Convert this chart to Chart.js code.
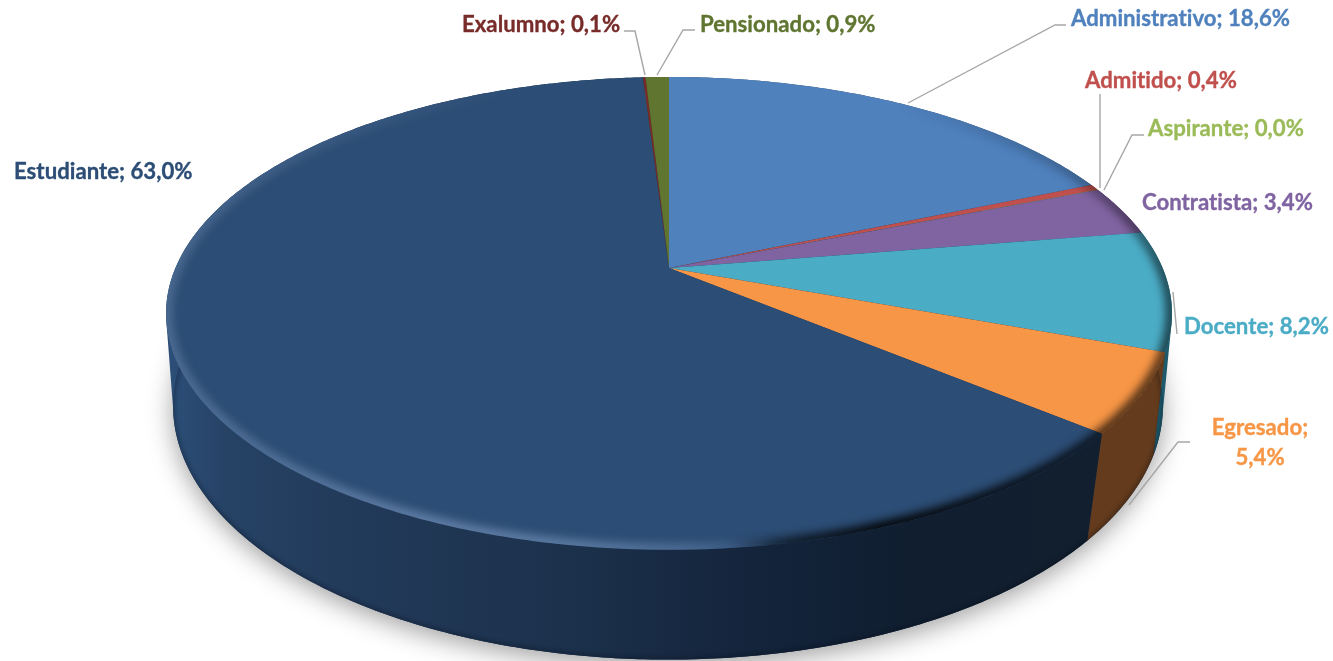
<!DOCTYPE html>
<html><head><meta charset="utf-8">
<style>html,body{margin:0;padding:0;background:#fff}canvas{display:block}</style>
<script src="https://cdn.jsdelivr.net/npm/chart.js@4"></script>
</head><body>
<canvas id="c" width="1333" height="661"></canvas>
<script>
const categories = ["Administrativo","Admitido","Aspirante","Contratista","Docente","Egresado","Estudiante","Exalumno","Pensionado"];
const values = [18.6,0.4,0.03,3.4,8.2,5.4,63.0,0.1,0.9];
const colors = ["#4F81BD","#C0504D","#9BBB59","#8064A2","#4BACC6","#F79646","#2C4D75","#772C2A","#5F7530"];
const wallColors = ["#2a4666","#6a2b2a","#556632","#463756","#1d5a6c","#643B1C","#1a2f49","#41181a","#34401a"];
const textColors = ["#4F81BD","#C0504D","#9BBB59","#8064A2","#4BACC6","#F79646","#2C4D75","#772C2A","#5F7530"];

// label layout, same order as categories: text anchor x, middle y
const labelX = [1071,1085,1148,1142,1184,1260,14,462,700];
const labelY = [19,81,129,203,327,428,172,25,25];
// leader polylines, same order (empty = none)
const leaders = [
  [[1066,25],[1055,25],[908,103]],
  [[1100,94],[1100,188]],
  [[1144,135],[1132,135],[1104,190]],
  [],
  [[1173,292],[1177,334]],
  [[1190,442],[1178,442],[1129,505]],
  [],
  [[624,31],[635,31],[645,75]],
  [[695,30],[683,30],[657,75]]
];

// projection of the tilted disc
const K = 0.192;
const TOP = {cx:669, cy:268, A:227.7, B:493.6};
const LOW = {cx:668, cy:357, A:244.5, B:485.7};
function project(d, a){
  const u = Math.cos(a), v = Math.sin(a), w = 1 - K*v;
  return [d.cx + d.B*u/w, d.cy + d.A*v/w];
}
function lowerFor(a){ return project(LOW, a + 0.03*Math.cos(a)); }
function arcPoints(d, a0, a1){
  const n = Math.max(2, Math.ceil(Math.abs(a1-a0)/0.01));
  const pts = [];
  for(let i=0;i<=n;i++) pts.push(project(d, a0+(a1-a0)*i/n));
  return pts;
}
function tracePts(ctx, pts, move){
  pts.forEach((p,i)=>{ if(i===0 && move) ctx.moveTo(p[0],p[1]); else ctx.lineTo(p[0],p[1]); });
}
function fullPath(ctx, d){
  ctx.beginPath();
  tracePts(ctx, arcPoints(d,0,Math.PI*2), true);
  ctx.closePath();
}
function wallPath(ctx, a0, a1){
  // union of small quads, so the silhouette's tangent edges are covered
  const n = Math.max(2, Math.ceil((a1-a0)/0.01));
  ctx.beginPath();
  for(let i=0;i<n;i++){
    const p = a0+(a1-a0)*i/n, q = a0+(a1-a0)*(i+1)/n;
    const t0 = project(TOP,p), t1 = project(TOP,q), b0 = lowerFor(p), b1 = lowerFor(q);
    const s = (t1[0]-t0[0])*(b0[1]-t0[1])-(t1[1]-t0[1])*(b0[0]-t0[0]);
    // keep every quad the same winding so nonzero fill leaves no holes
    ctx.moveTo(t0[0],t0[1]);
    if(s>=0){ ctx.lineTo(t1[0],t1[1]); ctx.lineTo(b1[0],b1[1]); ctx.lineTo(b0[0],b0[1]); }
    else { ctx.lineTo(b0[0],b0[1]); ctx.lineTo(b1[0],b1[1]); ctx.lineTo(t1[0],t1[1]); }
    ctx.closePath();
  }
}

const pie3d = {
  id:'pie3d',
  beforeDatasetDraw(chart){
    const ctx = chart.ctx;
    const arcs = chart.getDatasetMeta(0).data;
    ctx.save();
    // ground shadow
    ctx.save();
    ctx.shadowColor = 'rgba(0,0,0,0.38)';
    ctx.shadowBlur = 26;
    ctx.shadowOffsetX = 0;
    ctx.shadowOffsetY = 6;
    ctx.fillStyle = '#1a2f49';
    fullPath(ctx, LOW);
    ctx.fill();
    ctx.restore();

    // walls, back to front
    const order = arcs.map((el,i)=>i).sort((p,q)=>{
      const m = e => Math.sin((e.startAngle+e.endAngle)/2);
      return m(arcs[p])-m(arcs[q]);
    });
    order.forEach(i=>{
      const el = arcs[i];
      wallPath(ctx, el.startAngle, el.endAngle);
      if(categories[i]==="Estudiante"){
        const g = ctx.createLinearGradient(165,0,1095,0);
        g.addColorStop(0,'#2c4f79');
        g.addColorStop(0.07,'#264264');
        g.addColorStop(0.2,'#223a5a');
        g.addColorStop(0.45,'#1b304a');
        g.addColorStop(0.65,'#13233a');
        g.addColorStop(0.8,'#101e30');
        g.addColorStop(1,'#121f2e');
        ctx.fillStyle = g;
      } else ctx.fillStyle = wallColors[i];
      ctx.fill();
    });

    // darker lower edge of the wall
    ctx.save();
    ctx.beginPath();
    tracePts(ctx, arcPoints(TOP,0,Math.PI),true);
    tracePts(ctx, arcPoints(LOW,Math.PI,0),false);
    ctx.closePath();
    ctx.clip();
    ctx.filter = 'blur(2px)';
    ctx.strokeStyle = 'rgba(5,10,20,0.35)';
    ctx.lineWidth = 4;
    fullPath(ctx, LOW);
    ctx.stroke();
    ctx.restore();

    // top face
    arcs.forEach((el,i)=>{
      if(el.endAngle-el.startAngle<=0) return;
      ctx.beginPath();
      ctx.moveTo(TOP.cx,TOP.cy);
      tracePts(ctx, arcPoints(TOP, el.startAngle, el.endAngle), false);
      ctx.closePath();
      ctx.fillStyle = colors[i];
      ctx.fill();
    });

    // bevel of the rim
    ctx.save();
    fullPath(ctx, TOP);
    ctx.clip();
    const dark = ctx.createConicGradient(0, TOP.cx, TOP.cy);
    [[0,.55],[25,.7],[50,.9],[66,.6],[78,0],[325,0],[345,.2],[360,.55]]
      .forEach(s=>dark.addColorStop(s[0]/360,`rgba(0,0,0,${s[1]})`));
    const light = ctx.createConicGradient(0, TOP.cx, TOP.cy);
    [[0,0],[68,0],[85,.2],[110,.32],[135,.34],[155,.24],[180,.2],[205,.08],[230,0],[360,0]]
      .forEach(s=>light.addColorStop(s[0]/360,`rgba(190,215,255,${s[1]})`));
    ctx.filter = 'blur(4px)';
    ctx.lineWidth = 13;
    fullPath(ctx, TOP);
    ctx.strokeStyle = dark;
    ctx.stroke();
    ctx.strokeStyle = light;
    ctx.stroke();
    ctx.restore();
    ctx.restore();
    return false;
  },
  afterDatasetsDraw(chart){
    const ctx = chart.ctx;
    ctx.save();
    ctx.strokeStyle = '#a6a6a6';
    ctx.lineWidth = 1.4;
    leaders.forEach(l=>{
      if(!l.length) return;
      ctx.beginPath();
      l.forEach((p,i)=> i? ctx.lineTo(p[0],p[1]) : ctx.moveTo(p[0],p[1]));
      ctx.stroke();
    });
    ctx.font = 'bold 22.2px Lato, Carlito, sans-serif';
    ctx.letterSpacing = '0.01px';
    ctx.textBaseline = 'middle';
    ctx.lineWidth = 0.35;
    categories.forEach((name,i)=>{
      const pct = values[i].toFixed(1).replace('.',',')+'%';
      ctx.fillStyle = textColors[i];
      ctx.strokeStyle = textColors[i];
      const put = (s,x,y)=>{ ctx.fillText(s,x,y); ctx.strokeText(s,x,y); };
      if(name==="Egresado"){
        ctx.textAlign='center';
        put(name+';',labelX[i],labelY[i]);
        put(pct,labelX[i],labelY[i]+30);
      } else {
        ctx.textAlign='left';
        put(name+'; '+pct,labelX[i],labelY[i]);
      }
    });
    ctx.restore();
  }
};

new Chart(document.getElementById('c'),{
  type:'pie',
  data:{labels:categories,datasets:[{data:values,backgroundColor:colors,borderWidth:0}]},
  options:{
    responsive:false,animation:false,
    plugins:{legend:{display:false},tooltip:{enabled:false}}
  },
  plugins:[pie3d]
});
</script>
</body></html>
